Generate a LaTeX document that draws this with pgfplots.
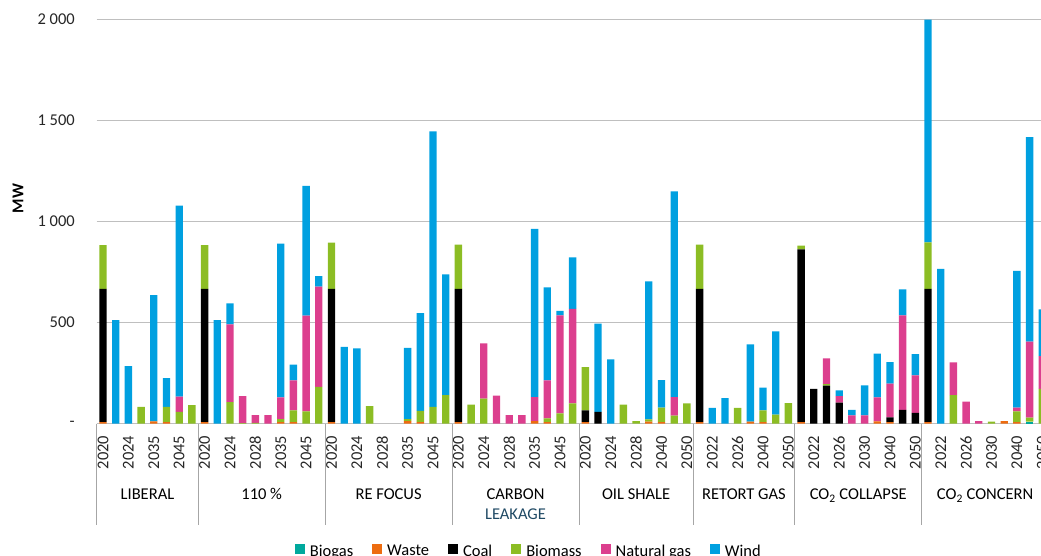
\documentclass[border=0pt]{standalone}
\usepackage{pgfplots}
\pgfplotsset{compat=1.18}
\usepackage{pgfplotstable}
\usepackage{fontspec}
\setmainfont{Carlito}
\definecolor{cBiogas}{RGB}{0,169,157}
\definecolor{cWaste}{RGB}{237,108,16}
\definecolor{cCoal}{RGB}{0,0,0}
\definecolor{cBiomass}{RGB}{140,189,36}
\definecolor{cGas}{RGB}{220,63,142}
\definecolor{cWind}{RGB}{0,160,224}
\definecolor{cLeak}{RGB}{31,73,100}
\pgfplotstableread{
x biogas waste coal biomass gas wind
0 0 8 660 216 0 0
1 0 0 0 0 0 513
2 0 0 0 0 0 285
3 0 0 0 83 0 0
4 0 12 0 0 0 625
5 0 8 0 75 0 143
6 0 0 0 58 76 945
7 0 0 0 92 0 0
8 0 8 660 216 0 0
9 0 0 0 0 0 513
10 0 0 0 107 385 104
11 0 0 0 3 134 0
12 0 0 0 4 39 0
13 0 0 0 0 43 0
14 0 8 0 15 107 761
15 0 8 0 58 149 77
16 0 0 0 61 474 642
17 0 0 0 182 496 53
18 0 8 660 228 0 0
19 0 0 0 0 0 380
20 0 0 0 0 0 373
21 0 0 0 87 0 0
22 0 0 0 0 0 0
23 0 0 0 0 0 0
24 0 13 0 10 0 352
25 0 8 0 55 0 485
26 0 0 0 83 0 1364
27 0 0 0 142 0 597
28 0 8 660 218 0 0
29 0 0 0 94 0 0
30 0 0 0 124 274 0
31 0 0 0 0 139 0
32 0 0 0 0 43 0
33 0 0 0 0 43 0
34 0 13 0 0 119 833
35 0 8 0 18 189 460
36 0 0 0 51 485 23
37 0 0 0 101 467 255
38 0 8 58 214 0 0
39 0 0 59 0 0 436
40 0 0 0 0 0 318
41 0 0 0 94 0 0
42 0 0 0 13 0 0
43 0 10 0 11 0 684
44 0 8 0 71 0 137
45 0 0 0 40 92 1018
46 0 0 0 101 0 0
47 0 8 660 218 0 0
48 0 0 0 0 0 78
49 0 0 0 0 0 127
50 0 0 0 78 0 0
51 0 10 0 0 0 383
52 0 8 0 58 0 112
53 0 0 0 45 0 412
54 0 0 0 102 0 0
55 0 8 855 18 0 0
56 0 0 172 0 0 0
57 0 0 188 8 127 0
58 0 0 104 0 33 28
59 0 0 0 0 41 28
60 0 0 0 0 41 149
61 0 12 0 0 118 217
62 0 8 23 0 167 107
63 0 0 69 0 467 129
64 0 0 54 0 185 106
65 0 8 660 230 0 1102
66 0 0 0 0 0 767
67 0 0 0 142 162 0
68 0 0 0 0 109 0
69 0 0 0 0 13 0
70 0 0 0 10 0 0
71 0 13 0 0 0 0
72 0 8 0 53 18 678
73 10 0 0 20 376 1013
74 0 0 0 173 162 231
}\datatable
\pgfplotsset{sq legend/.style={legend image code/.code={\fill[##1] (0pt,-2pt) rectangle (10pt,8pt);}}}
\begin{document}
\fontsize{16.5}{19.8}\selectfont
\begin{tikzpicture}[x=1pt,y=1pt]
\useasboundingbox (0,0) rectangle (1041,556);
\begin{axis}[
  at={(96.7pt,132.3pt)}, anchor=south west,
  scale only axis, width=951.9pt, height=404pt,
  xmin=-0.5, xmax=74.5, ymin=0, ymax=2000,
  ybar stacked, bar width=0.58,
  axis line style={draw=none},
  clip=false,
  major tick length=0pt,
  ytick={0,500,1000,1500,2000},
  yticklabels={{-\hspace{7pt}},500,1~000,1~500,2~000},
  ymajorgrids, grid style={black!25, line width=1.2pt},
  xtick={0,2,...,74},
  xticklabels={2020,2024,2035,2045,
    2020,2024,2028,2035,2045,
    2020,2024,2028,2035,2045,
    2020,2024,2028,2035,2045,
    2020,2024,2028,2040,2050,
    2022,2026,2040,2050,
    2022,2026,2030,2040,2050,
    2022,2026,2030,2040,2050},
  xticklabel style={rotate=90, anchor=east, inner sep=0pt, text=black!85},
  xticklabel shift=12pt,
  yticklabel style={anchor=east, inner sep=0pt, text=black!85},
  yticklabel shift=21.7pt,
  ylabel={\textbf{MW}},
  ylabel style={at={(axis description cs:-0.0827,0.557)}, anchor=center},
  legend columns=6,
  legend style={at={(axis description cs:0.454,-0.317)}, anchor=center, draw=none, fill=none,
    /tikz/every odd column/.append style={column sep=3pt},
    /tikz/every even column/.append style={column sep=17pt}},
]
\addplot[sq legend, fill=cBiogas, draw=none] table[x=x,y=biogas]{\datatable};
\addplot[sq legend, fill=cWaste, draw=none] table[x=x,y=waste]{\datatable};
\addplot[sq legend, fill=cCoal, draw=none] table[x=x,y=coal]{\datatable};
\addplot[sq legend, fill=cBiomass, draw=none] table[x=x,y=biomass]{\datatable};
\addplot[sq legend, fill=cGas, draw=none] table[x=x,y=gas]{\datatable};
\addplot[sq legend, fill=cWind, draw=none] table[x=x,y=wind]{\datatable};
\legend{Biogas,Waste,Coal,Biomass,Natural gas,Wind}
\pgfplotsinvokeforeach{-0.5,7.5,17.5,27.5,37.5,46.5,54.5,64.5}{
  \draw[black!35, line width=1pt] (axis cs:#1,0) -- ++(0pt,-101.3pt);
}
\node[anchor=base] at ([yshift=-76.3pt]axis cs:3.5,0) {LIBERAL};
\node[anchor=base] at ([yshift=-76.3pt]axis cs:12.5,0) {110~\%};
\node[anchor=base] at ([yshift=-76.3pt]axis cs:22.5,0) {RE FOCUS};
\node[anchor=base] at ([yshift=-76.3pt]axis cs:32.5,0) {CARBON};
\node[anchor=base, text=cLeak] at ([yshift=-96.3pt]axis cs:32.5,0) {LEAKAGE};
\node[anchor=base] at ([yshift=-76.3pt]axis cs:42,0) {OIL SHALE};
\node[anchor=base] at ([yshift=-76.3pt]axis cs:50.5,0) {RETORT GAS};
\node[anchor=base] at ([yshift=-76.3pt]axis cs:59.5,0) {CO\textsubscript{2} COLLAPSE};
\node[anchor=base] at ([yshift=-76.3pt]axis cs:69.5,0) {CO\textsubscript{2} CONCERN};
\end{axis}
\end{tikzpicture}
\end{document}
